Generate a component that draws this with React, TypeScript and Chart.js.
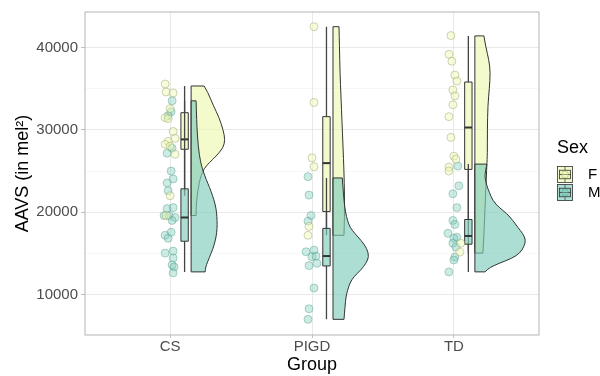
import React, { useEffect, useRef } from 'react';
import { Chart, registerables } from 'chart.js';

Chart.register(...registerables);

const FAMILY = '"Liberation Sans", Arial, Helvetica, sans-serif';

// ---- categories ----
const GROUPS = ['CS', 'PIGD', 'TD'];
const SEXES = ['F', 'M'];

// ---- raw points (AAVS values) and horizontal jitter (category units) ----
const csF = [35560, 34600, 34480, 32560, 31480, 31360, 29800, 28960, 28600, 28240, 28000, 27040, 22000, 19600];
const csFJit = [-0.035, -0.028, 0.021, 0, -0.035, -0.014, 0.021, 0.035, -0.014, -0.035, 0, 0.035, 0, -0.028];
const csM = [33520, 32200, 31720, 27760, 27160, 25000, 24040, 23560, 22600, 20440, 20560, 19600, 19600, 19360, 19000, 17560, 17200, 16840, 15040, 15280, 14440, 13600, 13360, 12640];
const csMJit = [0.014, 0.007, -0.014, 0.014, -0.021, 0.007, 0.021, -0.021, -0.014, -0.021, 0.021, -0.042, -0.007, 0.035, 0.014, 0.007, -0.035, -0.014, -0.035, 0.021, 0.021, 0.014, 0.028, 0.021];
const pigdF = [42520, 33320, 26600, 25520, 18280, 17200];
const pigdFJit = [0.014, 0.014, 0, 0.014, -0.021, -0.028];
const pigdM = [24320, 22080, 19600, 18920, 15200, 15400, 14600, 14680, 13800, 13520, 10800, 8280, 7000];
const pigdMJit = [-0.028, -0.021, -0.007, -0.028, -0.042, 0.014, 0, 0.028, 0.035, -0.021, 0.014, -0.021, -0.028];
const tdF = [41440, 39160, 38320, 36640, 35920, 34840, 34120, 33040, 31600, 29080, 26800, 26440, 25480, 25000, 16240, 15160];
const tdFJit = [-0.021, -0.035, -0.014, 0.007, 0.021, -0.007, 0.007, -0.007, -0.035, -0.021, 0, 0.014, -0.035, -0.035, 0.049, 0.042];
const tdM = [25600, 23200, 22240, 20560, 19000, 18520, 17440, 16960, 16840, 16240, 15760, 14560, 14200, 12760];
const tdMJit = [0.028, 0.035, -0.007, 0.021, -0.007, 0.007, -0.042, 0.021, 0, -0.007, 0.014, 0.007, 0, -0.035];

// ---- boxplot statistics per group (CS, PIGD, TD) ----
const fLo = [22000, 17200, 15040];
const fQ1 = [27640, 20080, 25200];
const fMed = [28840, 25960, 30280];
const fQ3 = [32080, 31600, 35800];
const fHi = [35320, 42520, 41400];
const mLo = [12760, 7000, 12760];
const mQ1 = [16480, 13480, 16120];
const mMed = [19360, 14680, 17120];
const mQ3 = [22840, 18040, 19120];
const mHi = [33520, 24160, 25840];

// ---- half-violin density profiles (value, relative density) ----
const csFVals = [35320, 34500, 33000, 31500, 30000, 28800, 27800, 26800, 26000, 25300, 24500, 23500, 22000, 20500, 19600];
const csFDens = [13, 17, 22, 28, 32, 34, 32, 25, 18, 13, 10, 8, 6, 5, 5];
const csMVals = [33520, 31000, 28000, 26000, 25000, 24000, 23000, 22000, 21000, 20000, 19000, 18000, 17000, 16000, 15000, 14000, 13300, 12760];
const csMDens = [5, 5.5, 7, 9.5, 12, 15, 18.5, 21.5, 24, 25.5, 26, 26, 25, 23, 20, 16.5, 14.5, 14];
const pigdFVals = [42520, 40000, 37000, 34000, 31000, 28000, 25000, 22000, 19500, 17200];
const pigdFDens = [6, 6.5, 7, 8, 9, 10, 11, 11.5, 11.5, 11];
const pigdMVals = [24160, 23000, 21400, 20000, 19000, 18160, 17400, 16600, 15600, 14600, 13800, 13000, 12200, 11440, 10500, 9760, 8500, 7000];
const pigdMDens = [9.3, 10, 11, 12.5, 14.5, 17, 22, 28, 34, 36, 33, 28, 21, 17, 14.5, 13, 12, 11];
const tdFVals = [41400, 40000, 38500, 37000, 35000, 33000, 30000, 27000, 25800, 23000, 20000, 17000, 15040];
const tdFDens = [9, 11, 14, 15.5, 14.5, 13, 12.5, 12.5, 12, 11, 10, 9, 8];
const tdMVals = [25840, 25000, 24200, 23200, 22400, 21400, 20600, 19840, 19000, 18160, 17400, 16600, 15800, 15040, 14400, 13840, 13300, 12760];
const tdMDens = [12, 10.5, 10, 12, 14.5, 18, 24, 32, 38, 43, 48, 51, 49, 45, 37, 25, 15, 10];

// ---- axis ticks ----
const Y_TICKS = [10000, 15000, 20000, 25000, 30000, 35000, 40000];
const Y_MIN = 5100;
const Y_MAX = 44300;

// layout constants (not data)
const BOX_NUDGE = 0.102;
const BOX_HALF = 0.026;
const VIOLIN_NUDGE = 0.148;
const VIOLIN_SCALE = 1 / 141.9;

const FILL = ['rgba(237,248,177,0.65)', 'rgba(127,205,187,0.65)'];
const PT_FILL = ['rgba(237,248,177,0.45)', 'rgba(127,205,187,0.40)'];
const PT_BORDER = ['rgba(150,158,105,0.50)', 'rgba(70,150,132,0.45)'];

const pointsBySex = [
  [[csF, csFJit], [pigdF, pigdFJit], [tdF, tdFJit]],
  [[csM, csMJit], [pigdM, pigdMJit], [tdM, tdMJit]],
];
const violinsBySex = [
  [[csFVals, csFDens], [pigdFVals, pigdFDens], [tdFVals, tdFDens]],
  [[csMVals, csMDens], [pigdMVals, pigdMDens], [tdMVals, tdMDens]],
];
const boxesBySex = [
  { lo: fLo, q1: fQ1, med: fMed, q3: fQ3, hi: fHi },
  { lo: mLo, q1: mQ1, med: mMed, q3: mQ3, hi: mHi },
];

function smoothPath(ctx: CanvasRenderingContext2D, pts: number[][]) {
  ctx.lineTo(pts[0][0], pts[0][1]);
  for (let i = 1; i < pts.length - 1; i++) {
    const mx = (pts[i][0] + pts[i + 1][0]) / 2;
    const my = (pts[i][1] + pts[i + 1][1]) / 2;
    ctx.quadraticCurveTo(pts[i][0], pts[i][1], mx, my);
  }
  const last = pts[pts.length - 1];
  ctx.lineTo(last[0], last[1]);
}

const rainPlugin = {
  id: 'rain',
  beforeDatasetsDraw(chart: any) {
    const { ctx, chartArea, scales } = chart;
    const x = scales.x;
    const y = scales.y;
    const ppu = x.getPixelForValue(1) - x.getPixelForValue(0);
    ctx.save();
    ctx.beginPath();
    ctx.rect(chartArea.left, chartArea.top, chartArea.right - chartArea.left, chartArea.bottom - chartArea.top);
    ctx.clip();
    // violins
    for (let s = 0; s < 2; s++) {
      for (let g = 0; g < GROUPS.length; g++) {
        const [vals, dens] = violinsBySex[s][g];
        const x0 = x.getPixelForValue(g + 1 + VIOLIN_NUDGE);
        const pts = vals.map((v: number, i: number) => [x0 + dens[i] * VIOLIN_SCALE * ppu, y.getPixelForValue(v)]);
        ctx.beginPath();
        ctx.moveTo(x0, y.getPixelForValue(vals[0]));
        smoothPath(ctx, pts);
        ctx.lineTo(x0, y.getPixelForValue(vals[vals.length - 1]));
        ctx.closePath();
        ctx.fillStyle = FILL[s];
        ctx.fill();
        ctx.strokeStyle = '#333333';
        ctx.lineWidth = 1;
        ctx.lineJoin = 'round';
        ctx.stroke();
      }
    }
    // boxplots
    for (let g = 0; g < GROUPS.length; g++) {
      for (let s = 0; s < 2; s++) {
        const b = boxesBySex[s];
        const xc = x.getPixelForValue(g + 1 + BOX_NUDGE);
        const xl = x.getPixelForValue(g + 1 + BOX_NUDGE - BOX_HALF);
        const xr = x.getPixelForValue(g + 1 + BOX_NUDGE + BOX_HALF);
        ctx.strokeStyle = '#444444';
        ctx.lineWidth = 1.3;
        ctx.beginPath();
        ctx.moveTo(xc, y.getPixelForValue(b.hi[g]));
        ctx.lineTo(xc, y.getPixelForValue(b.q3[g]));
        ctx.moveTo(xc, y.getPixelForValue(b.q1[g]));
        ctx.lineTo(xc, y.getPixelForValue(b.lo[g]));
        ctx.stroke();
        const yt = y.getPixelForValue(b.q3[g]);
        const yb = y.getPixelForValue(b.q1[g]);
        ctx.fillStyle = FILL[s];
        ctx.fillRect(xl, yt, xr - xl, yb - yt);
        ctx.strokeStyle = '#333333';
        ctx.lineWidth = 1;
        ctx.strokeRect(xl, yt, xr - xl, yb - yt);
        ctx.lineWidth = 2;
        ctx.beginPath();
        const ym = y.getPixelForValue(b.med[g]);
        ctx.moveTo(xl, ym);
        ctx.lineTo(xr, ym);
        ctx.stroke();
      }
    }
    ctx.restore();
  },
  afterDraw(chart: any) {
    const { ctx, chartArea } = chart;
    ctx.save();
    // panel border
    ctx.strokeStyle = '#b3b3b3';
    ctx.lineWidth = 1;
    ctx.strokeRect(chartArea.left, chartArea.top, chartArea.right - chartArea.left, chartArea.bottom - chartArea.top);
    // legend
    ctx.fillStyle = '#000000';
    ctx.textBaseline = 'middle';
    ctx.textAlign = 'left';
    ctx.font = `18px ${FAMILY}`;
    ctx.fillText('Sex', 557, 148);
    SEXES.forEach((s, i) => {
      const kx = 557;
      const ky = 166 + i * 18;
      const kw = 16;
      const kh = 17;
      ctx.fillStyle = FILL[i];
      ctx.fillRect(kx, ky, kw, kh);
      ctx.strokeStyle = '#333333';
      ctx.lineWidth = 0.8;
      ctx.strokeRect(kx + 0.5, ky + 0.5, kw - 1, kh - 1);
      const cx = kx + kw / 2;
      ctx.strokeStyle = '#444444';
      ctx.beginPath();
      ctx.moveTo(cx, ky + 1);
      ctx.lineTo(cx, ky + kh * 0.25);
      ctx.moveTo(cx, ky + kh * 0.75);
      ctx.lineTo(cx, ky + kh - 1);
      ctx.stroke();
      ctx.fillStyle = FILL[i];
      ctx.fillRect(kx + 2.5, ky + kh * 0.25, kw - 5, kh * 0.5);
      ctx.strokeStyle = '#333333';
      ctx.strokeRect(kx + 2.5, ky + kh * 0.25, kw - 5, kh * 0.5);
      ctx.beginPath();
      ctx.moveTo(kx + 2.5, ky + kh / 2);
      ctx.lineTo(kx + kw - 2.5, ky + kh / 2);
      ctx.stroke();
      ctx.beginPath();
      ctx.arc(cx, ky + kh / 2, 3.5, 0, Math.PI * 2);
      ctx.fillStyle = PT_FILL[i];
      ctx.fill();
      ctx.strokeStyle = PT_BORDER[i];
      ctx.stroke();
      ctx.fillStyle = '#000000';
      ctx.font = `15px ${FAMILY}`;
      ctx.fillText(s, 588, ky + kh / 2);
    });
    ctx.restore();
  },
};

export default function App() {
  const ref = useRef<HTMLCanvasElement>(null);
  useEffect(() => {
    if (!ref.current) return;
    const datasets = SEXES.map((s, si) => ({
      label: s,
      data: pointsBySex[si].flatMap(([vals, jit], g) =>
        (vals as number[]).map((v, i) => ({ x: g + 1 + (jit as number[])[i], y: v }))
      ),
      backgroundColor: PT_FILL[si],
      borderColor: PT_BORDER[si],
      borderWidth: 0.9,
      pointRadius: 4,
      showLine: false,
    }));
    const chart = new Chart(ref.current, {
      type: 'scatter',
      data: { datasets },
      plugins: [rainPlugin],
      options: {
        animation: false,
        responsive: false,
        devicePixelRatio: 1,
        events: [],
        layout: { padding: { left: 0, right: 61, top: 9.5, bottom: 0 } },
        plugins: { legend: { display: false }, tooltip: { enabled: false } },
        scales: {
          x: {
            type: 'linear',
            min: 0.4,
            max: 3.6,
            afterBuildTicks: (s: any) => {
              s.ticks = GROUPS.map((_, i) => ({ value: i + 1 }));
            },
            afterFit: (s: any) => {
              s.height = 41;
            },
            ticks: {
              autoSkip: false,
              maxRotation: 0,
              padding: 0,
              color: '#4d4d4d',
              font: { size: 15, family: FAMILY },
              callback: (v: any) => GROUPS[Math.round(Number(v)) - 1] ?? '',
            },
            grid: { color: '#e3e3e3', lineWidth: 0.8, tickColor: '#b3b3b3', tickLength: 3 },
            border: { display: false },
            title: {
              display: true,
              text: 'Group',
              color: '#000000',
              font: { size: 18, family: FAMILY },
              padding: { top: 0, bottom: 0 },
            },
          },
          y: {
            type: 'linear',
            min: Y_MIN,
            max: Y_MAX,
            afterBuildTicks: (s: any) => {
              s.ticks = Y_TICKS.map((v) => ({ value: v }));
            },
            afterFit: (s: any) => {
              s.width = 85;
            },
            ticks: {
              autoSkip: false,
              padding: 3,
              color: '#4d4d4d',
              font: { size: 15, family: FAMILY },
              callback: (v: any) => (Number(v) % 10000 === 0 ? String(v) : ''),
            },
            grid: {
              color: (c: any) => (c.tick && c.tick.value % 10000 === 0 ? '#e3e3e3' : '#eeeeee'),
              lineWidth: (c: any) => (c.tick && c.tick.value % 10000 === 0 ? 0.8 : 0.5),
              tickColor: (c: any) => (c.tick && c.tick.value % 10000 === 0 ? '#b3b3b3' : 'rgba(0,0,0,0)'),
              tickLength: 4,
            },
            border: { display: false },
            title: {
              display: true,
              text: 'AAVS (in mel²)',
              color: '#000000',
              font: { size: 18, family: FAMILY },
              padding: { top: 12, bottom: 0 },
            },
          },
        },
      },
    } as any);
    return () => chart.destroy();
  }, []);
  return (
    <div style={{ position: 'absolute', left: 0, top: 0, width: 600, height: 376, background: '#ffffff' }}>
      <canvas ref={ref} width={600} height={376} style={{ display: 'block' }} />
    </div>
  );
}
